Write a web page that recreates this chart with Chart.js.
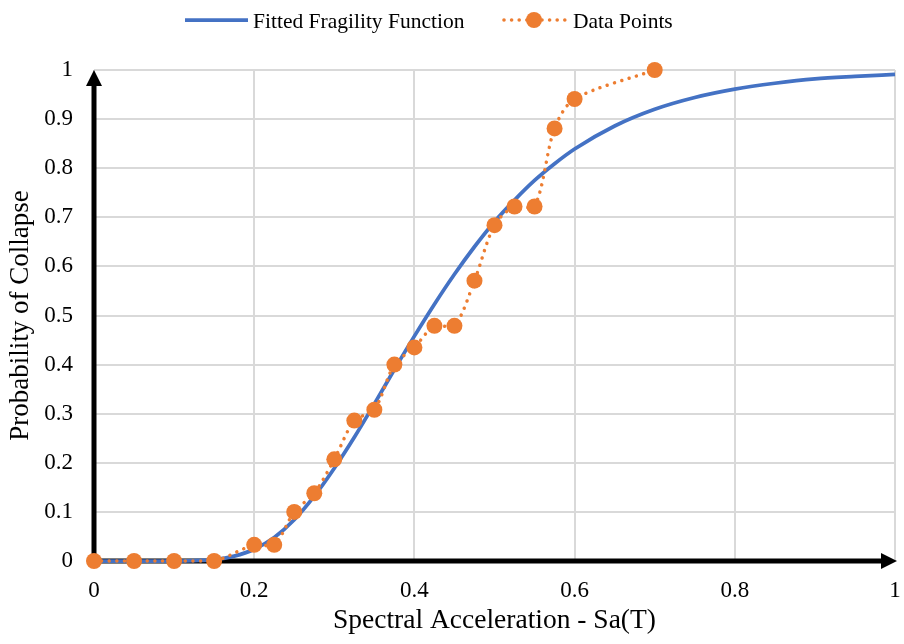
<!DOCTYPE html>
<html>
<head>
<meta charset="utf-8">
<script src="https://cdn.jsdelivr.net/npm/chart.js@4/dist/chart.umd.min.js"></script>
<style>
  html, body { margin: 0; padding: 0; background: #fff; }
  #wrap { width: 904px; height: 644px; }
</style>
</head>
<body>
<div id="wrap"><canvas id="c" width="904" height="644"></canvas></div>
<script>
// Observed collapse fractions at each spectral acceleration level
const saLevels = [0, 0.05, 0.1, 0.15, 0.2, 0.225, 0.25, 0.275, 0.3, 0.325, 0.35, 0.375, 0.4, 0.425, 0.45, 0.475, 0.5, 0.525, 0.55, 0.575, 0.6, 0.7];
const collapseFraction = [0, 0, 0, 0, 0.033, 0.033, 0.1, 0.138, 0.207, 0.286, 0.308, 0.4, 0.435, 0.479, 0.479, 0.571, 0.684, 0.722, 0.722, 0.881, 0.941, 1];

// Fitted fragility curve samples
const fitSa = [0, 0.05, 0.1, 0.125, 0.15, 0.175, 0.2, 0.225, 0.25, 0.275, 0.3, 0.325, 0.35, 0.375, 0.4, 0.425, 0.45, 0.475, 0.5, 0.525, 0.55, 0.575, 0.6, 0.65, 0.7, 0.75, 0.8, 0.85, 0.9, 0.95, 1];
const fitProb = [0, 0, 0, 0.001, 0.003, 0.01, 0.024, 0.048, 0.084, 0.132, 0.189, 0.252, 0.32, 0.39, 0.458, 0.523, 0.584, 0.64, 0.691, 0.735, 0.775, 0.809, 0.839, 0.886, 0.92, 0.944, 0.961, 0.973, 0.982, 0.987, 0.991];

// Axis tick labels
const xTickValues = [0, 0.2, 0.4, 0.6, 0.8, 1];
const yTickValues = [0, 0.1, 0.2, 0.3, 0.4, 0.5, 0.6, 0.7, 0.8, 0.9, 1];

const BLUE = '#4472C4';
const ORANGE = '#ED7D31';
const FONT = "'Liberation Serif', 'Times New Roman', serif";

// Legend row across the top: solid line swatch, dotted swatch with marker
const legendRow = {
  id: 'legendRow',
  afterDraw(chart) {
    const ctx = chart.ctx;
    const ds = chart.data.datasets;
    const cy = 20;
    ctx.save();
    // solid swatch
    ctx.strokeStyle = ds[0].borderColor;
    ctx.lineWidth = ds[0].borderWidth;
    ctx.beginPath(); ctx.moveTo(185, cy); ctx.lineTo(248, cy); ctx.stroke();
    // dotted swatch with marker
    ctx.fillStyle = ds[1].borderColor;
    for (let x = 504; x <= 566; x += 7.6) {
      ctx.beginPath(); ctx.arc(x, cy, 1.8, 0, Math.PI * 2); ctx.fill();
    }
    ctx.beginPath(); ctx.arc(534, cy, 8, 0, Math.PI * 2); ctx.fill();
    // labels
    ctx.fillStyle = '#000';
    ctx.font = "21.5px " + FONT;
    ctx.textBaseline = 'alphabetic';
    ctx.textAlign = 'left';
    ctx.fillText(ds[0].label, 253, 28);
    ctx.fillText(ds[1].label, 573, 28);
    ctx.restore();
  }
};

// Thick black axes with arrowheads, drawn beneath the data
const arrowAxes = {
  id: 'arrowAxes',
  beforeDatasetsDraw(chart) {
    const { ctx, scales: { x, y } } = chart;
    const x0 = x.getPixelForValue(0), x1 = x.getPixelForValue(1);
    const y0 = y.getPixelForValue(0), y1 = y.getPixelForValue(1);
    ctx.save();
    ctx.strokeStyle = '#000';
    ctx.fillStyle = '#000';
    ctx.lineWidth = 5;
    ctx.lineCap = 'butt';
    // vertical axis
    ctx.beginPath(); ctx.moveTo(x0, y0 + 2.5); ctx.lineTo(x0, y1 + 12); ctx.stroke();
    ctx.beginPath(); ctx.moveTo(x0, y1); ctx.lineTo(x0 - 8, y1 + 16); ctx.lineTo(x0 + 8, y1 + 16); ctx.closePath(); ctx.fill();
    // horizontal axis
    ctx.beginPath(); ctx.moveTo(x0 - 2.5, y0); ctx.lineTo(x1 - 10, y0); ctx.stroke();
    ctx.beginPath(); ctx.moveTo(x1 + 2, y0); ctx.lineTo(x1 - 14, y0 - 8); ctx.lineTo(x1 - 14, y0 + 8); ctx.closePath(); ctx.fill();
    ctx.restore();
  }
};

const chart = new Chart(document.getElementById('c'), {
  type: 'line',
  data: {
    datasets: [
      {
        label: 'Fitted Fragility Function',
        data: fitSa.map((v, i) => ({ x: v, y: fitProb[i] })),
        borderColor: BLUE,
        backgroundColor: BLUE,
        borderWidth: 3.75,
        pointRadius: 0,
        cubicInterpolationMode: 'monotone',
        clip: false,
        order: 2
      },
      {
        label: 'Data Points',
        data: saLevels.map((v, i) => ({ x: v, y: collapseFraction[i] })),
        borderColor: ORANGE,
        backgroundColor: ORANGE,
        borderWidth: 3.5,
        borderDash: [0.01, 7.6],
        borderCapStyle: 'round',
        tension: 0.3,
        pointRadius: 8,
        pointBackgroundColor: ORANGE,
        pointBorderColor: ORANGE,
        pointBorderWidth: 0,
        clip: false,
        order: 1
      }
    ]
  },
  options: {
    responsive: false,
    animation: false,
    devicePixelRatio: 1,
    layout: { padding: { left: 0, right: 9, top: 70, bottom: 0 } },
    plugins: {
      tooltip: { enabled: false },
      legend: { display: false }
    },
    scales: {
      x: {
        type: 'linear',
        min: 0, max: 1,
        afterBuildTicks: s => { s.ticks = xTickValues.map(v => ({ value: v })); },
        afterFit: s => { s.height = 83; s.paddingLeft = 0; s.paddingRight = 0; },
        grid: { color: '#d9d9d9', lineWidth: 2, drawTicks: false },
        border: { display: false },
        ticks: { color: '#000', font: { family: FONT, size: 23 }, padding: 16, maxRotation: 0, callback: v => String(v) },
        title: { display: true, text: 'Spectral Acceleration - Sa(T)', color: '#000', font: { family: FONT, size: 27.5 }, padding: { top: 0, bottom: 7 } }
      },
      y: {
        type: 'linear',
        min: 0, max: 1,
        afterBuildTicks: s => { s.ticks = yTickValues.map(v => ({ value: v })); },
        afterFit: s => { s.width = 94; s.paddingTop = 0; s.paddingBottom = 0; },
        grid: { color: '#d9d9d9', lineWidth: 2, drawTicks: false },
        border: { display: false },
        ticks: { color: '#000', font: { family: FONT, size: 23 }, padding: 21, callback: v => String(v) },
        title: { display: true, text: 'Probability of Collapse', color: '#000', font: { family: FONT, size: 27 }, padding: { top: 5, bottom: 0 } }
      }
    }
  },
  plugins: [arrowAxes, legendRow]
});
</script>
</body>
</html>
